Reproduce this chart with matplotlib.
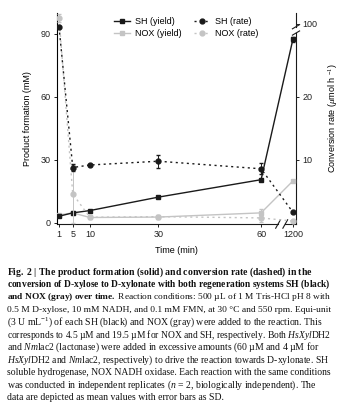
import numpy as np
import matplotlib
matplotlib.use("Agg")
import matplotlib.pyplot as plt
from matplotlib.lines import Line2D

# ---- data ----
times = [1, 5, 10, 30, 60, 1200]
time_labels = ["1", "5", "10", "30", "60", "1200"]

sh_yield = [3.2, 4.8, 5.9, 12.3, 20.6, 87.5]
sh_yield_err = [0.3, 0.3, 0.3, 0.4, 0.4, 1.2]
nox_yield = [3.8, 4.8, 2.6, 2.8, 4.8, 20.0]
nox_yield_err = [0.3, 0.4, 0.3, 0.5, 2.0, 0.6]

sh_rate = [95.0, 8.8, 9.2, 9.8, 8.6, 1.7]
sh_rate_err = [2.0, 0.6, 0.2, 1.0, 0.9, 0.1]
nox_rate = [109.0, 4.6, 0.9, 1.0, 0.8, 0.3]
nox_rate_err = [6.0, 4.6, 0.2, 0.3, 0.6, 0.1]

BLACK = "#1a1a1a"
GRAY = "#c4c4c4"
DASH = (0, (1.5, 2.5))

plt.rcParams["font.family"] = ["Liberation Sans", "DejaVu Sans"]
plt.rcParams["mathtext.fontset"] = "custom"
plt.rcParams["mathtext.rm"] = "Liberation Serif"
plt.rcParams["mathtext.it"] = "Liberation Serif:italic"
plt.rcParams["mathtext.bf"] = "Liberation Serif:bold"


def xpos(t):
  # broken time axis: linear up to 60 min, 1200 squeezed in after the break
  return t if t <= 60 else 69.3


def rpos(r):
  # broken rate axis: linear up to ~30, values around 100 above the break
  return r if r <= 30 else 31.6 + (r - 100) * 0.1


def rerr(vals, errs):
  return [e if v <= 30 else e * 0.1 for v, e in zip(vals, errs)]


xs = [xpos(t) for t in times]

fig = plt.figure(figsize=(3.54, 4.13), dpi=100)
ax = fig.add_axes([57/354, 1 - 224/413, 239/354, 211/413])
ax2 = ax.twinx()

ebkw = dict(marker="s", ms=3.5, lw=1.0, capsize=1.5, elinewidth=0.7)
# yields (solid)
ax.errorbar(xs, sh_yield, yerr=sh_yield_err, color=BLACK, zorder=4, **ebkw)
ax.errorbar(xs, nox_yield, yerr=nox_yield_err, color=GRAY, zorder=3, **ebkw)

# rates (dashed)
ebkw["marker"] = "o"
ax2.errorbar(xs, [rpos(v) for v in sh_rate], yerr=rerr(sh_rate, sh_rate_err),
             color=BLACK, ls=DASH, zorder=4, **ebkw)
ax2.errorbar(xs, [rpos(v) for v in nox_rate], yerr=rerr(nox_rate, nox_rate_err),
             color=GRAY, ls=DASH, zorder=3, **ebkw)

ax.set_xlim(0.4, 70.2)
ax.set_ylim(-0.5, 100)
ax2.set_ylim(-0.5/3, 100/3)

ax.set_xticks(xs)
ax.set_xticklabels(time_labels)
ax.set_yticks([0, 30, 60, 90])
ax2.set_yticks([10, 20, rpos(100)])
ax2.set_yticklabels(["10", "20", "100"])

for a in (ax, ax2):
  a.tick_params(labelsize=6.5, length=2.5, width=0.7, pad=2, colors="#222222")
  for s in a.spines.values():
    s.set_visible(False)
ax.spines["left"].set_visible(True)
ax.spines["left"].set_linewidth(0.8)

# axis lines with breaks
kw = dict(transform=ax.transAxes, color=BLACK, lw=0.8, clip_on=False)
ax.plot([0, 0.925], [0, 0], **kw)
ax.plot([0.955, 1.0], [0, 0], **kw)
ax.plot([0.915, 0.935], [-0.02, 0.02], **kw)
ax.plot([0.945, 0.965], [-0.02, 0.02], **kw)
ax.plot([1, 1], [0, 0.905], **kw)
ax.plot([1, 1], [0.935, 1.0], **kw)
ax.plot([0.985, 1.015], [0.895, 0.915], **kw)
ax.plot([0.985, 1.015], [0.925, 0.945], **kw)

ax.set_xlabel("Time (min)", fontsize=6.5, labelpad=5)
ax.set_ylabel("Product formation (mM)", fontsize=6.5, labelpad=6)
ax2.set_ylabel("Conversion rate ($\\mu$mol h $^{-1}$)", fontsize=6.5, labelpad=6)

handles = [
  Line2D([], [], color=BLACK, marker="s", ms=3.5, lw=1.0),
  Line2D([], [], color=GRAY, marker="s", ms=3.5, lw=1.0),
  Line2D([], [], color=BLACK, marker="o", ms=3.5, lw=1.0, ls=DASH),
  Line2D([], [], color=GRAY, marker="o", ms=3.5, lw=1.0, ls=DASH),
]
labels = ["SH (yield)", "NOX (yield)", "SH (rate)", "NOX (rate)"]
ax.legend(handles, labels, ncol=2, frameon=False, fontsize=6.5,
          loc="center", bbox_to_anchor=(0.54, 0.93), handlelength=1.8,
          columnspacing=1.3, labelspacing=0.3, handletextpad=0.6)

# caption
caption = [
  r"$\mathbf{Fig.\ 2\ |\ The\ product\ formation\ (solid)\ and\ conversion\ rate\ (dashed)\ in\ the}$",
  r"$\mathbf{conversion\ of\ D\text{-}xylose\ to\ D\text{-}xylonate\ with\ both\ regeneration\ systems\ SH\ (black)}$",
  r"$\mathbf{and\ NOX\ (gray)\ over\ time.}$ Reaction conditions: 500 µL of 1 M Tris-HCl pH 8 with",
  "0.5 M D-xylose, 10 mM NADH, and 0.1 mM FMN, at 30 °C and 550 rpm. Equi-unit",
  "(3 U mL$^{-1}$) of each SH (black) and NOX (gray) were added to the reaction. This",
  r"corresponds to 4.5 µM and 19.5 µM for NOX and SH, respectively. Both $\mathit{HsXyl}$DH2",
  r"and $\mathit{Nm}$lac2 (lactonase) were added in excessive amounts (60 µM and 4 µM for",
  r"$\mathit{HsXyl}$DH2 and $\mathit{Nm}$lac2, respectively) to drive the reaction towards D-xylonate. SH",
  "soluble hydrogenase, NOX NADH oxidase. Each reaction with the same conditions",
  r"was conducted in independent replicates ($\mathit{n}$ = 2, biologically independent). The",
  "data are depicted as mean values with error bars as SD.",
]
renderer = fig.canvas.get_renderer()
max_w = 325.0
base_fs = 7.0
for i, line in enumerate(caption):
  y = 272 + i * 12.6
  t = fig.text(7/354, 1 - y/413, line, fontsize=base_fs, family="Liberation Serif",
               va="center", ha="left", color="#111111")
  w = t.get_window_extent(renderer).width
  if w > max_w:
    t.set_fontsize(base_fs * max_w / w)

fig.savefig("out.png", dpi=100)
